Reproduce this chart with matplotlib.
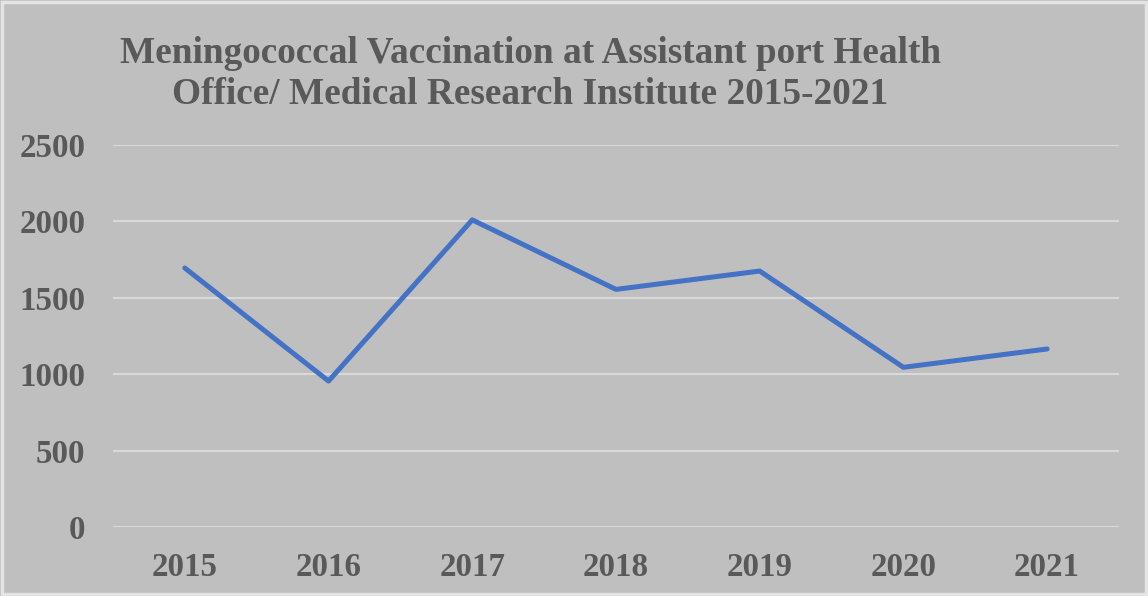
import matplotlib.pyplot as plt
from matplotlib.patches import Rectangle

# === 数据 ===
years = ['2015', '2016', '2017', '2018', '2019', '2020', '2021']
vaccinations = [1695, 955, 2010, 1555, 1675, 1045, 1165]
y_ticks = [0, 500, 1000, 1500, 2000, 2500]

title_text = ('Meningococcal Vaccination at Assistant port Health\n'
              'Office/ Medical Research Institute 2015-2021')

bg = '#BFBFBF'
text_col = '#595959'
grid_col = '#D9D9D9'

plt.rcParams['font.family'] = ['Liberation Serif', 'DejaVu Serif']
plt.rcParams['font.weight'] = 'bold'

fig = plt.figure(figsize=(11.48, 5.96), dpi=100)
fig.patch.set_facecolor(bg)

# 外边框
fig.patches.append(Rectangle((0.002, 0.003), 0.996, 0.994, transform=fig.transFigure,
                             fill=False, edgecolor='#E4E4E4', linewidth=2.5))

ax = fig.add_axes([0.0984, 0.1158, 0.8763, 0.6409])
ax.set_facecolor(bg)

x = list(range(len(years)))
ax.plot(x, vaccinations, color='#4472C4', linewidth=3.6, solid_capstyle='round',
        solid_joinstyle='round', zorder=3)

ax.set_xlim(-0.5, len(years) - 0.5)
ax.set_ylim(0, 2500)
ax.set_yticks(y_ticks)
ax.set_xticks(x)
ax.set_xticklabels(years)

ax.grid(axis='y', color=grid_col, linewidth=1.5, zorder=1)
ax.set_axisbelow(True)
for s in ax.spines.values():
    s.set_visible(False)
ax.tick_params(axis='both', length=0, labelsize=23.8, labelcolor=text_col)
ax.tick_params(axis='y', pad=20)
ax.tick_params(axis='x', pad=18)
for lab in ax.get_xticklabels() + ax.get_yticklabels():
    lab.set_fontweight('bold')

fig.text(0.462, 0.876, title_text, ha='center', va='center', fontsize=26.8,
         fontweight='bold', color=text_col, linespacing=1.25)

fig.savefig('out.png', dpi=100, facecolor=bg)
